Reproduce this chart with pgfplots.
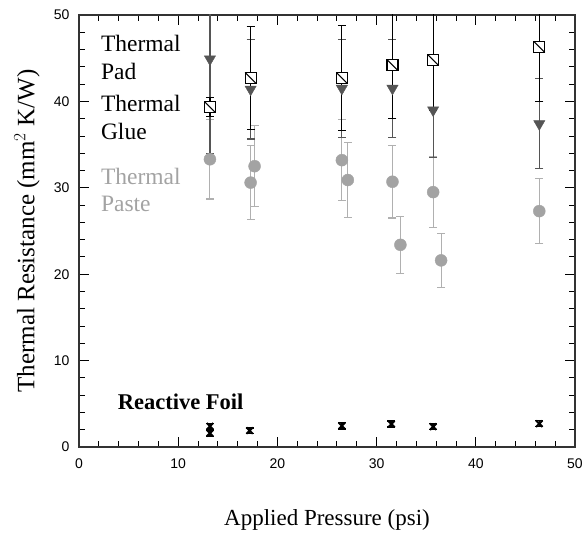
\documentclass[border=0pt]{standalone}
\usepackage{fontspec}
\setmainfont{Liberation Serif}
\newfontfamily\tickfont{Liberation Sans}
\usepackage{pgfplots}
\pgfplotsset{compat=1.18}
\definecolor{glue}{HTML}{555555}
\definecolor{paste}{HTML}{A3A3A3}
\definecolor{pastebar}{HTML}{B0B0B0}
\pgfdeclareplotmark{sqdiag}{%
  \pgfpathrectangle{\pgfqpoint{-\pgfplotmarksize}{-\pgfplotmarksize}}{\pgfqpoint{2\pgfplotmarksize}{2\pgfplotmarksize}}%
  \pgfusepathqfillstroke
  \pgfpathmoveto{\pgfqpoint{-\pgfplotmarksize}{\pgfplotmarksize}}%
  \pgfpathlineto{\pgfqpoint{\pgfplotmarksize}{-\pgfplotmarksize}}%
  \pgfusepathqstroke}
\begin{document}
\begin{tikzpicture}
\useasboundingbox (-79pt,-89pt) rectangle (505pt,447pt);
\begin{axis}[
  at={(0,0)}, anchor=south west,
  width=496pt, height=432pt, scale only axis,
  xmin=0, xmax=50, ymin=0, ymax=50,
  xtick={0,10,...,50}, ytick={0,10,...,50},
  minor x tick num=4, minor y tick num=4,
  tick pos=both, tick align=inside,
  major tick length=10pt, minor tick length=6pt,
  every tick/.style={black, line width=0.9pt},
  axis line style={line width=1.3pt, black!80},
  /pgf/number format/assume math mode=true,
  tick label style={font=\tickfont\fontsize{14}{14}\selectfont},
  yticklabel style={xshift=-6pt},
  xticklabel style={yshift=-8pt},
  xlabel={Applied Pressure (psi)},
  ylabel={Thermal Resistance (mm$^2$ K/W)},
  xlabel style={font=\fontsize{23}{23}\selectfont, at={(axis description cs:0.5,-0.169)}, anchor=center},
  ylabel style={font=\fontsize{25}{25}\selectfont, at={(axis description cs:-0.105,0.5)}, anchor=center},
]
% Thermal paste (two series)
\addplot[only marks, mark=*, mark size=6pt, color=paste,
  error bars/.cd, y dir=both, y explicit,
  error bar style={color=pastebar, line width=1.1pt},
  error mark options={rotate=90, mark size=4pt, color=pastebar, line width=1.1pt}]
  table[x=x, y=y, y error=e] {
x y e
13.2 33.3 4.6
17.3 30.6 4.3
26.5 33.2 4.7
31.6 30.7 4.2
35.7 29.5 4.1
46.4 27.3 3.75
};
\addplot[only marks, mark=*, mark size=6pt, color=paste,
  error bars/.cd, y dir=both, y explicit,
  error bar style={color=pastebar, line width=1.1pt},
  error mark options={rotate=90, mark size=4pt, color=pastebar, line width=1.1pt}]
  table[x=x, y=y, y error=e] {
x y e
17.7 32.5 4.7
27.1 30.9 4.3
32.4 23.4 3.3
36.5 21.6 3.1
};
% Thermal glue
\addplot[only marks, mark=triangle*, mark size=6.5pt, color=glue,
  mark options={rotate=180},
  error bars/.cd, y dir=both, y explicit,
  error bar style={color=glue, line width=1.2pt},
  error mark options={rotate=90, mark size=4pt, color=glue, line width=1.1pt}]
  table[x=x, y=y, y error=e] {
x y e
13.2 44.9 10.9
17.3 41.4 5.75
26.5 41.5 5.7
31.6 41.5 5.7
35.7 39.0 5.5
46.4 37.4 5.2
};
% Thermal pad
\addplot[only marks, mark=sqdiag, mark size=5.5pt, color=black,
  mark options={fill=white, line width=1.1pt},
  error bars/.cd, y dir=both, y explicit,
  error bar style={color=black, line width=1.2pt},
  error mark options={rotate=90, mark size=4pt, color=black, line width=1.1pt}]
  table[x=x, y=y, y error=e] {
x y e
13.2 39.35 1.05
17.3 42.7 6.0
26.5 42.7 6.1
31.6 44.2 6.2
35.7 44.8 5.8
46.4 46.3 6.3
};
% Reactive foil
\addplot[only marks, mark=x, mark size=4.5pt, color=black,
  mark options={line width=2pt},
  error bars/.cd, y dir=both, y explicit,
  error bar style={color=black, line width=1.3pt},
  error mark options={rotate=90, mark size=4pt, color=black, line width=1.3pt}]
  table[x=x, y=y, y error=e] {
x y e
13.2 2.4 0.35
13.2 1.6 0.35
17.2 1.9 0.3
26.5 2.45 0.35
31.5 2.65 0.35
35.7 2.35 0.35
46.4 2.7 0.35
};
\begin{scope}[every node/.style={anchor=base west, inner sep=0pt, font=\fontsize{23.5}{23.5}\selectfont}]
\node at (axis cs:2.2,45.75) {Thermal};
\node at (axis cs:2.2,42.5) {Pad};
\node at (axis cs:2.2,38.8) {Thermal};
\node at (axis cs:2.2,35.6) {Glue};
\node[text=paste] at (axis cs:2.2,30.4) {Thermal};
\node[text=paste] at (axis cs:2.2,27.2) {Paste};
\node[font=\fontsize{22.5}{22.5}\selectfont\bfseries] at (axis cs:3.9,4.3) {Reactive Foil};
\end{scope}
\end{axis}
\end{tikzpicture}
\end{document}
